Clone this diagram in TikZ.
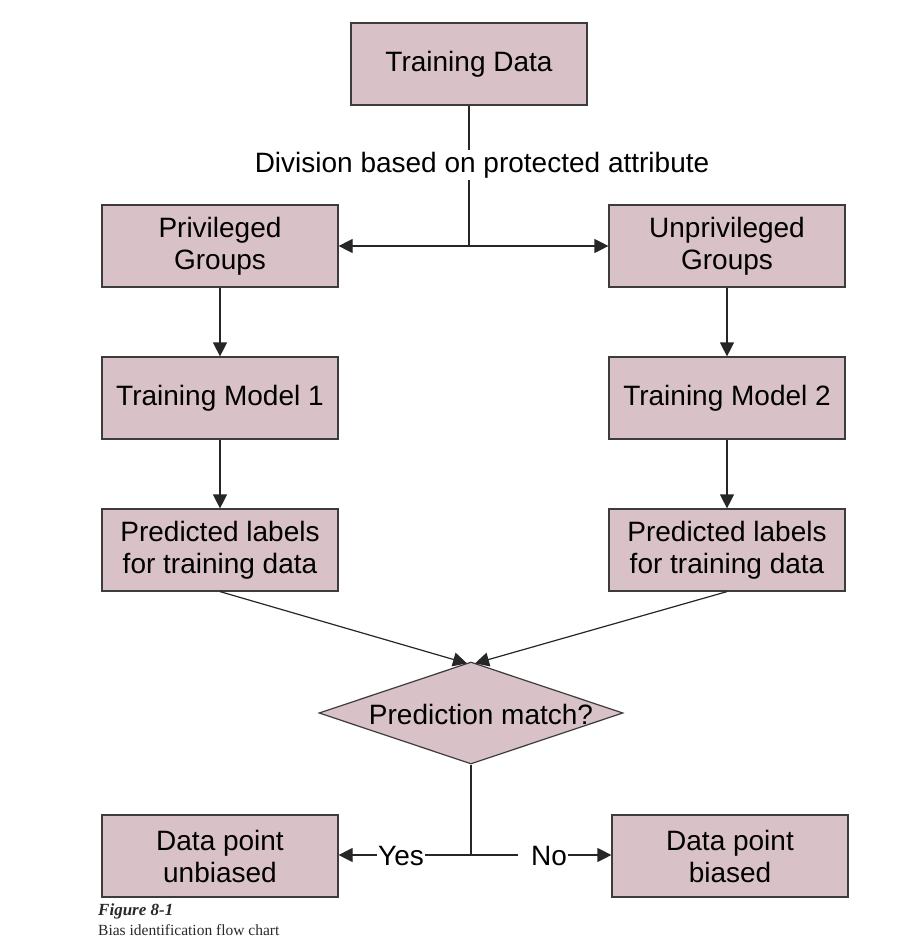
\documentclass[tikz,border=0pt]{standalone}
\usepackage{fontspec}
\setmainfont{Liberation Sans}
\newfontfamily\capfont{Liberation Serif}
\usetikzlibrary{shapes.geometric,arrows.meta}
\definecolor{boxfill}{RGB}{217,193,200}
\definecolor{boxline}{RGB}{60,60,60}
\definecolor{capcol}{RGB}{40,40,40}
\begin{document}
\begin{tikzpicture}[x=1pt,y=-1pt,
  txt/.style={font=\fontsize{28}{32}\selectfont},
  box/.style={txt,draw=boxline,fill=boxfill,line width=1.2pt,minimum width=236pt,minimum height=82pt,inner sep=0pt,align=center},
  dia/.style={diamond,draw=boxline,fill=boxfill,line width=1.2pt,aspect=2.98,minimum width=304pt,minimum height=102pt,inner sep=0pt},
  conn/.style={line width=1.2pt,draw=black!85},
  arr/.style={conn,-{Triangle[length=14pt,width=14pt]}},
  lbl/.style={txt,fill=white,inner sep=2pt}]
\useasboundingbox (0,0) rectangle (910,944);
\node[box] (td) at (469,64) {Training Data};
\node[box] (pg) at (220,246) {Privileged\\Groups};
\node[box] (ug) at (727,246) {Unprivileged\\Groups};
\node[box] (m1) at (220,398) {Training Model 1};
\node[box] (m2) at (727,398) {Training Model 2};
\node[box] (p1) at (220,550) {Predicted labels\\for training data};
\node[box] (p2) at (727,550) {Predicted labels\\for training data};
\node[dia] (pm) at (471,713) {};
\node[txt,inner sep=0pt] (pmt) at (481,714) {Prediction match?};
\node[box] (ub) at (220,856) {Data point\\unbiased};
\node[box] (bi) at (730,856) {Data point\\biased};
\coordinate (j1) at (469,246);
\coordinate (j2) at (471,855);
\node[lbl] (div) at (482,165) {Division based on protected attribute};
\node[lbl,inner sep=1pt] (yes) at (401,856) {Yes};
\node[lbl,inner sep=1pt] (no) at (549,856) {No};
\draw[conn] (td.south) -- (td.south |- div.north);
\draw[conn] (j1 |- div.south) -- (j1);
\draw[arr] (j1) -- (pg.east);
\draw[arr] (j1) -- (ug.west);
\draw[arr] (pg) -- (m1);
\draw[arr] (ug) -- (m2);
\draw[arr] (m1) -- (p1);
\draw[arr] (m2) -- (p2);
\draw[arr] (p1.south) -- ([xshift=-4pt,yshift=-2pt]pm.north);
\draw[arr] (p2.south) -- ([xshift=4pt,yshift=-2pt]pm.north);
\draw[conn] (pm.south) -- (j2);
\draw[conn] (j2) -- (j2 -| yes.east);
\draw[arr] (yes.west |- j2) -- (ub.east |- j2);
\draw[conn] (j2) -- ([xshift=-12pt]j2 -| no.west);
\draw[arr] (no.east |- j2) -- (bi.west |- j2);
\node[anchor=west,inner sep=0pt,text=capcol,font=\capfont\fontsize{17}{20}\selectfont\bfseries\itshape] (fig) at (98,911) {Figure 8-1};
\node[anchor=west,inner sep=0pt,text=capcol,font=\capfont\fontsize{15.5}{18}\selectfont] (cap) at (98,930) {Bias identification flow chart};
\end{tikzpicture}
\end{document}
